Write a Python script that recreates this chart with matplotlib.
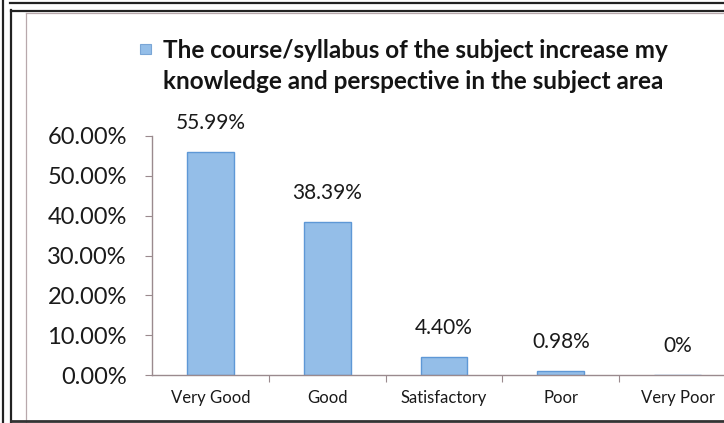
import matplotlib
matplotlib.use('Agg')
import matplotlib.pyplot as plt
from matplotlib.lines import Line2D
from matplotlib.patches import Rectangle

plt.rcParams['font.family'] = ['Lato', 'DejaVu Sans']

categories = ['Very Good', 'Good', 'Satisfactory', 'Poor', 'Very Poor']
values = [55.99, 38.39, 4.40, 0.98, 0.0]
value_labels = ['55.99%', '38.39%', '4.40%', '0.98%', '0%']
y_ticks = [0, 10, 20, 30, 40, 50, 60]
series_name = ('The course/syllabus of the subject increase my\n'
               'knowledge and perspective in the subject area')

W, H = 724, 423
fig = plt.figure(figsize=(W / 100, H / 100), dpi=100)
fig.patch.set_facecolor('white')

#axes placed in pixel terms, right side runs past the picture edge
ax = fig.add_axes([152 / W, 1 - 375 / H, (736 - 152) / W, (375 - 136) / H])
ax.set_facecolor('none')

x = list(range(len(categories)))
bars = ax.bar(x, values, width=0.4, color='#94BEE8', edgecolor='#5E98D6',
              linewidth=1.0, zorder=2)

ax.set_xlim(-0.5, len(categories) - 0.5)
ax.set_ylim(0, 60)

ax.set_yticks(y_ticks)
ax.set_yticklabels([f'{t:.2f}%' for t in y_ticks], fontsize=17,
                   color='#1a1a1a')
ax.tick_params(axis='y', length=5, width=0.8, color='#9a8a8e', pad=13)

#x ticks sit on the category boundaries, labels in the middle
ax.set_xticks([i + 0.5 for i in x[:-1]])
ax.set_xticklabels([])
ax.set_xticks(x, minor=True)
ax.set_xticklabels(categories, minor=True, fontsize=12, color='#1a1a1a')
ax.tick_params(axis='x', which='major', length=5, width=0.8,
               color='#9a8a8e', direction='out')
ax.tick_params(axis='x', which='minor', length=0, pad=11)

for side in ['top', 'right']:
    ax.spines[side].set_visible(False)
for side in ['left', 'bottom']:
    ax.spines[side].set_color('#9a8a8e')
    ax.spines[side].set_linewidth(1.0)

#value labels above each bar
for xi, v, lab in zip(x, values, value_labels):
    ax.annotate(lab, (xi, v), xytext=(0, 21), textcoords='offset points',
                ha='center', va='center', fontsize=15, color='#1a1a1a')

#legend-like title block
fig.add_artist(Rectangle((140 / W, 1 - 54 / H), 11 / W, 10 / H,
                         transform=fig.transFigure, facecolor='#94BEE8',
                         edgecolor='#7AA6D6', linewidth=0.8))
fig.text(163 / W, 1 - 66 / H, series_name, fontsize=17.5, fontweight='bold',
         ha='left', va='center', linespacing=1.4, color='#141414')

#scanned page frame lines
def fline(x0, y0, x1, y1, c='#222222', lw=1.6):
    fig.add_artist(Line2D([x0 / W, x1 / W], [1 - y0 / H, 1 - y1 / H],
                          transform=fig.transFigure, color=c, linewidth=lw))

fline(3, 0, 3, H)
fline(11, 10, 11, H)
fline(10, 3, W, 3)
fline(11, 11, W, 11)
fline(26, 13, W, 13, c='#b8a8ac', lw=0.9)
fline(26, 13, 26, H, c='#b8a8ac', lw=0.9)
fline(11, 421, W, 421, c='#333333', lw=2.0)

fig.savefig('out.png', dpi=100)
